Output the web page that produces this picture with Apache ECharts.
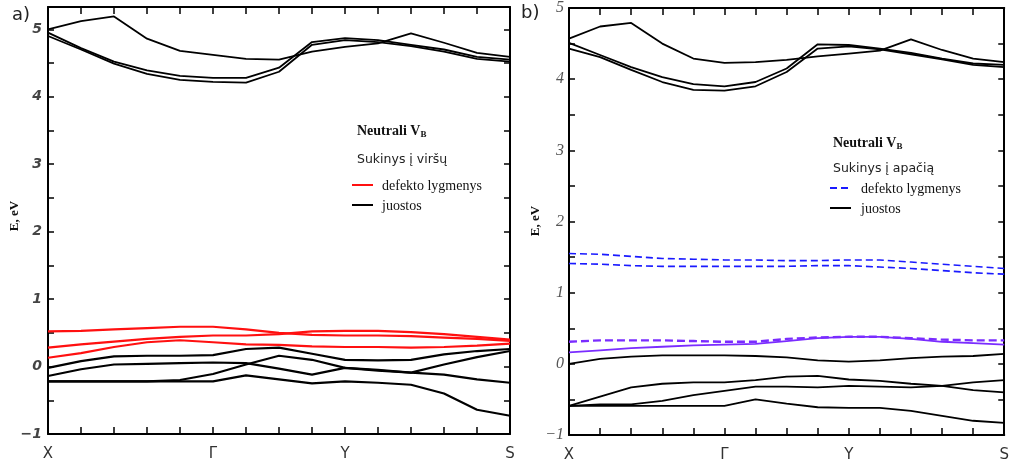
<!DOCTYPE html>
<html>
<head>
<meta charset="utf-8">
<title>Neutrali VB - juostos</title>
<script src="https://cdn.jsdelivr.net/npm/echarts@6/dist/echarts.min.js"></script>
<style>
  html, body { margin: 0; padding: 0; background: #fff; }
  #chart { width: 1012px; height: 467px; }
</style>
</head>
<body>
<div id="chart"></div>
<script>
// k taskai (X .. S), 15 tasku
var kLabels = ['X', '', '', '', '', 'Γ', '', '', '', 'Y', '', '', '', '', 'S'];

// a) sukinys i virsu - laidumo juostos
var aBand1 = [5.00, 5.12, 5.19, 4.86, 4.68, 4.62, 4.56, 4.55, 4.67, 4.74, 4.79, 4.94, 4.80, 4.65, 4.59];
var aBand2 = [4.95, 4.72, 4.52, 4.39, 4.31, 4.28, 4.28, 4.43, 4.81, 4.87, 4.84, 4.77, 4.70, 4.59, 4.55];
var aBand3 = [4.90, 4.70, 4.49, 4.34, 4.25, 4.22, 4.21, 4.37, 4.77, 4.84, 4.81, 4.75, 4.67, 4.56, 4.52];
// a) valentines juostos
var aVal1 = [-0.02, 0.08, 0.15, 0.16, 0.16, 0.17, 0.26, 0.28, 0.19, 0.10, 0.09, 0.10, 0.18, 0.23, 0.26];
var aVal2 = [-0.14, -0.04, 0.03, 0.04, 0.05, 0.06, 0.05, -0.03, -0.12, -0.02, -0.06, -0.09, 0.03, 0.14, 0.23];
var aVal3 = [-0.22, -0.22, -0.22, -0.22, -0.20, -0.11, 0.03, 0.16, 0.10, -0.02, -0.05, -0.09, -0.12, -0.19, -0.24];
var aVal4 = [-0.22, -0.22, -0.22, -0.22, -0.22, -0.22, -0.13, -0.19, -0.25, -0.22, -0.24, -0.27, -0.40, -0.64, -0.73];
// a) defekto lygmenys
var aDef1 = [0.52, 0.53, 0.55, 0.57, 0.59, 0.59, 0.55, 0.50, 0.47, 0.46, 0.46, 0.45, 0.43, 0.41, 0.38];
var aDef2 = [0.28, 0.33, 0.37, 0.41, 0.44, 0.46, 0.46, 0.48, 0.52, 0.53, 0.53, 0.51, 0.48, 0.44, 0.40];
var aDef3 = [0.13, 0.20, 0.29, 0.36, 0.39, 0.36, 0.33, 0.32, 0.30, 0.29, 0.29, 0.28, 0.29, 0.31, 0.34];

// b) sukinys i apacia - laidumo juostos
var bBand1 = [4.57, 4.74, 4.79, 4.50, 4.29, 4.23, 4.24, 4.27, 4.32, 4.36, 4.40, 4.56, 4.41, 4.29, 4.24];
var bBand2 = [4.51, 4.34, 4.17, 4.03, 3.93, 3.90, 3.96, 4.15, 4.49, 4.48, 4.43, 4.37, 4.29, 4.22, 4.20];
var bBand3 = [4.43, 4.31, 4.13, 3.96, 3.85, 3.84, 3.90, 4.10, 4.43, 4.46, 4.42, 4.35, 4.28, 4.20, 4.17];
// b) valentines juostos
var bVal1 = [0.00, 0.07, 0.10, 0.12, 0.12, 0.12, 0.11, 0.09, 0.05, 0.03, 0.05, 0.08, 0.10, 0.11, 0.14];
var bVal2 = [-0.59, -0.46, -0.33, -0.28, -0.26, -0.26, -0.23, -0.18, -0.17, -0.22, -0.24, -0.28, -0.31, -0.37, -0.40];
var bVal3 = [-0.59, -0.57, -0.57, -0.52, -0.44, -0.38, -0.32, -0.32, -0.33, -0.31, -0.32, -0.33, -0.31, -0.26, -0.23];
var bVal4 = [-0.59, -0.59, -0.59, -0.59, -0.59, -0.59, -0.50, -0.56, -0.61, -0.62, -0.62, -0.66, -0.73, -0.80, -0.83];
// b) defekto lygmenys
var bDef1 = [1.55, 1.54, 1.51, 1.48, 1.47, 1.46, 1.46, 1.45, 1.45, 1.46, 1.46, 1.43, 1.40, 1.37, 1.34];
var bDef2 = [1.41, 1.40, 1.38, 1.37, 1.37, 1.37, 1.37, 1.37, 1.38, 1.38, 1.36, 1.34, 1.31, 1.28, 1.26];
var bDef3 = [0.31, 0.33, 0.33, 0.33, 0.32, 0.31, 0.31, 0.35, 0.37, 0.38, 0.38, 0.36, 0.34, 0.33, 0.33];
var bMid  = [0.16, 0.19, 0.22, 0.24, 0.26, 0.27, 0.28, 0.32, 0.36, 0.38, 0.38, 0.35, 0.31, 0.29, 0.27];

var chart = echarts.init(document.getElementById('chart'));

function intLabel(v) {
    return Number.isInteger(v) ? String(v).replace('-', '\u2212') : '';
}

// asys vienam paveikslui
function xAxes(grid, pos) {
    return {
        type: 'category', gridIndex: grid, position: pos, data: kLabels, boundaryGap: false,
        axisLine: { onZero: false, lineStyle: { color: '#000', width: 2 } },
        axisTick: { show: true, inside: true, length: 7, interval: 0, lineStyle: { color: '#000', width: 1.5 } },
        axisLabel: pos === 'bottom' ? { show: true, interval: 0, margin: 13, color: '#333', fontSize: 15, fontFamily: 'DejaVu Sans' } : { show: false },
        splitLine: { show: false }
    };
}
function yAxes(grid, pos, max, lbl) {
    return {
        type: 'value', gridIndex: grid, position: pos, min: -1, max: max, interval: 0.5,
        axisLine: { show: true, onZero: false, lineStyle: { color: '#000', width: 2 } },
        axisTick: { show: true, inside: true, length: 6, lineStyle: { color: '#000', width: 1.5 } },
        axisLabel: pos === 'left' ? Object.assign({ show: true, formatter: intLabel }, lbl) : { show: false },
        splitLine: { show: false }
    };
}
function line(data, xi, yi, color, width, type) {
    return {
        type: 'line', data: data, xAxisIndex: xi, yAxisIndex: yi, symbol: 'none', silent: true,
        lineStyle: { color: color, width: width, type: type || 'solid' }
    };
}

var labelA = { margin: 6, color: '#444', fontSize: 14, fontStyle: 'italic', fontWeight: 'bold', fontFamily: 'DejaVu Sans' };
var labelB = { margin: 5, color: '#555', fontSize: 16, fontStyle: 'italic', fontFamily: 'Liberation Serif' };

var black = '#000';
var red = '#ff1010';
var blue = '#1a1aff';
var violet = '#7a2cff';

var option = {
    animation: false,
    backgroundColor: '#fff',
    grid: [
        { left: 48, top: 7, width: 462, height: 427 },
        { left: 569, top: 7, width: 439, height: 428 }
    ],
    xAxis: [xAxes(0, 'bottom'), xAxes(0, 'top'), xAxes(1, 'bottom'), xAxes(1, 'top')],
    yAxis: [yAxes(0, 'left', 5.33, labelA), yAxes(0, 'right', 5.33), yAxes(1, 'left', 5, labelB), yAxes(1, 'right', 5)],
    series: [
        line(aBand1, 0, 0, black, 1.8), line(aBand2, 0, 0, black, 1.8), line(aBand3, 0, 0, black, 1.8),
        line(aVal1, 0, 0, black, 2.2), line(aVal2, 0, 0, black, 2.2), line(aVal3, 0, 0, black, 2.2), line(aVal4, 0, 0, black, 2.2),
        line(aDef1, 0, 0, red, 2.2), line(aDef2, 0, 0, red, 2.2), line(aDef3, 0, 0, red, 2.2),

        line(bBand1, 2, 2, black, 1.8), line(bBand2, 2, 2, black, 1.8), line(bBand3, 2, 2, black, 1.8),
        line(bVal1, 2, 2, black, 1.8), line(bVal2, 2, 2, black, 1.8), line(bVal3, 2, 2, black, 1.8), line(bVal4, 2, 2, black, 1.8),
        line(bMid, 2, 2, violet, 1.8),
        line(bDef1, 2, 2, blue, 1.6, [7, 4]), line(bDef2, 2, 2, blue, 1.6, [7, 4]), line(bDef3, 2, 2, violet, 2.4, [8, 4])
    ],
    graphic: [
        { type: 'text', left: 12, top: 6, style: { text: 'a)', fontSize: 18, fontFamily: 'DejaVu Sans', fill: '#222' } },
        { type: 'text', left: 521, top: 4, style: { text: 'b)', fontSize: 18, fontFamily: 'DejaVu Sans', fill: '#222' } },
        { type: 'text', x: 15, y: 216, rotation: Math.PI / 2,
          style: { text: 'E, eV', align: 'center', verticalAlign: 'middle', fontSize: 13, fontWeight: 'bold', fontFamily: 'Liberation Serif', fill: '#111' } },
        { type: 'text', x: 536, y: 221, rotation: Math.PI / 2,
          style: { text: 'E, eV', align: 'center', verticalAlign: 'middle', fontSize: 13, fontWeight: 'bold', fontFamily: 'Liberation Serif', fill: '#111' } },

        // a) legenda
        { type: 'text', x: 357, y: 131, style: { text: '{t|Neutrali V}{s|B}', verticalAlign: 'middle',
            rich: { t: { fontSize: 14, fontWeight: 'bold', fontFamily: 'Liberation Serif', fill: '#111' },
                    s: { fontSize: 9, fontWeight: 'bold', fontFamily: 'Liberation Serif', fill: '#111', padding: [7, 0, 0, 0] } } } },
        { type: 'text', x: 357, y: 160, style: { text: 'Sukinys į viršų', verticalAlign: 'middle', fontSize: 12.5, fontFamily: 'DejaVu Sans', fill: '#222' } },
        { type: 'line', shape: { x1: 352, y1: 185, x2: 373, y2: 185 }, style: { stroke: red, lineWidth: 2 } },
        { type: 'text', x: 382, y: 186, style: { text: 'defekto lygmenys', verticalAlign: 'middle', fontSize: 14, fontFamily: 'Liberation Serif', fill: '#111' } },
        { type: 'line', shape: { x1: 352, y1: 205, x2: 373, y2: 205 }, style: { stroke: black, lineWidth: 2 } },
        { type: 'text', x: 382, y: 206, style: { text: 'juostos', verticalAlign: 'middle', fontSize: 14, fontFamily: 'Liberation Serif', fill: '#111' } },

        // b) legenda
        { type: 'text', x: 833, y: 143, style: { text: '{t|Neutrali V}{s|B}', verticalAlign: 'middle',
            rich: { t: { fontSize: 14, fontWeight: 'bold', fontFamily: 'Liberation Serif', fill: '#111' },
                    s: { fontSize: 9, fontWeight: 'bold', fontFamily: 'Liberation Serif', fill: '#111', padding: [7, 0, 0, 0] } } } },
        { type: 'text', x: 833, y: 169, style: { text: 'Sukinys į apačią', verticalAlign: 'middle', fontSize: 12.5, fontFamily: 'DejaVu Sans', fill: '#222' } },
        { type: 'line', shape: { x1: 830, y1: 188, x2: 851, y2: 188 }, style: { stroke: blue, lineWidth: 2, lineDash: [7, 4] } },
        { type: 'text', x: 861, y: 189, style: { text: 'defekto lygmenys', verticalAlign: 'middle', fontSize: 14, fontFamily: 'Liberation Serif', fill: '#111' } },
        { type: 'line', shape: { x1: 830, y1: 208, x2: 851, y2: 208 }, style: { stroke: black, lineWidth: 2 } },
        { type: 'text', x: 861, y: 209, style: { text: 'juostos', verticalAlign: 'middle', fontSize: 14, fontFamily: 'Liberation Serif', fill: '#111' } }
    ]
};

chart.setOption(option);
</script>
</body>
</html>
